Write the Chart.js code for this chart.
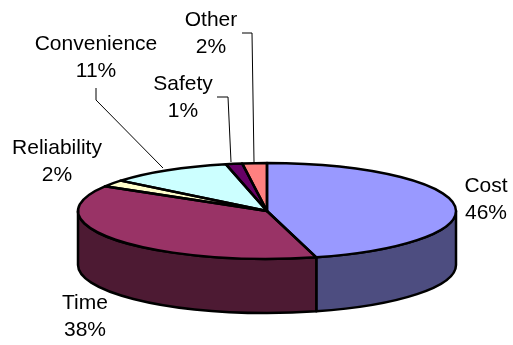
<!DOCTYPE html>
<html>
<head>
<meta charset="utf-8">
<title>Pie</title>
<script src="https://cdn.jsdelivr.net/npm/chart.js@4/dist/chart.umd.min.js"></script>
<style>
html, body { margin: 0; padding: 0; background: #fff; }
canvas { display: block; }
</style>
</head>
<body>
<canvas id="pieChart" width="513" height="345"></canvas>
<script>
const categories = ['Cost', 'Time', 'Reliability', 'Convenience', 'Safety', 'Other'];
// the labels show them rounded
const shares = [45.8, 37.8, 2.3, 10.6, 1.4, 2.1];
const topColors = ['#9999FF', '#993366', '#FFFFCC', '#CCFFFF', '#660066', '#FF8080'];
const sideColors = ['#4D4D80', '#4D1A33', '#808066', '#668080', '#330033', '#804040'];

// Where the tilted pie sits on the page
const pieX = 267, pieY = 211, pieRx = 189, pieRy = 48, pieDepth = 54;
const labelFont = '21px "Liberation Sans", Arial, sans-serif';
const lineGap = 27;

// centre x and first baseline of each label
const labelX = [486, 85, 57, 96, 183, 211];
const labelY = [192, 309, 154, 50, 90, 26];

// leader lines, only some labels have one
const leaders = [
    [[242, 33], [252, 33], [254, 162]],
    [[217, 97], [228, 97], [231, 162]],
    [[96, 88], [96, 100], [163, 168]]
];

const tiltPlugin = {
    id: 'tilt',
    beforeDatasetsDraw(chart) {
        const ctx = chart.ctx;
        const arcs = chart.getDatasetMeta(0).data;

        // side wall first, only the front half of the rim can be seen
        ctx.lineWidth = 2.5;
        ctx.strokeStyle = '#000';
        ctx.lineJoin = 'round';
        arcs.forEach((arc, i) => {
            const from = Math.max(arc.startAngle, 0);
            const to = Math.min(arc.endAngle, Math.PI);
            if (from >= to) return;
            ctx.beginPath();
            ctx.ellipse(pieX, pieY, pieRx, pieRy, 0, from, to);
            ctx.ellipse(pieX, pieY + pieDepth, pieRx, pieRy, 0, to, from, true);
            ctx.closePath();
            ctx.fillStyle = sideColors[i];
            ctx.fill();
            ctx.stroke();
        });

        // squash the circle the library draws into the top ellipse
        ctx.save();
        ctx.translate(pieX, pieY);
        ctx.scale(1, pieRy / pieRx);
        ctx.translate(-arcs[0].x, -arcs[0].y);
    },
    afterDatasetsDraw(chart) {
        const ctx = chart.ctx;
        ctx.restore();

        // outline here so the pen is not squashed with the slices
        ctx.lineWidth = 2.5;
        ctx.strokeStyle = '#000';
        chart.getDatasetMeta(0).data.forEach(arc => {
            ctx.beginPath();
            ctx.moveTo(pieX, pieY);
            ctx.ellipse(pieX, pieY, pieRx, pieRy, 0, arc.startAngle, arc.endAngle);
            ctx.closePath();
            ctx.stroke();
        });

        ctx.lineWidth = 1;
        leaders.forEach(points => {
            ctx.beginPath();
            points.forEach(([x, y], i) => i ? ctx.lineTo(x, y) : ctx.moveTo(x, y));
            ctx.stroke();
        });

        ctx.font = labelFont;
        ctx.fillStyle = '#000';
        ctx.textAlign = 'center';
        categories.forEach((name, i) => {
            ctx.fillText(name, labelX[i], labelY[i]);
            ctx.fillText(Math.round(shares[i]) + '%', labelX[i], labelY[i] + lineGap);
        });
    }
};

const ctx = document.getElementById('pieChart').getContext('2d');
const pieChart = new Chart(ctx, {
    type: 'pie',
    data: {
        labels: categories,
        datasets: [{
            data: shares,
            backgroundColor: topColors,
            borderWidth: 0,
            radius: pieRx,
            clip: false
        }]
    },
    options: {
        responsive: false,
        animation: false,
        plugins: {
            legend: { display: false },
            tooltip: { enabled: false }
        }
    },
    plugins: [tiltPlugin]
});
</script>
</body>
</html>
